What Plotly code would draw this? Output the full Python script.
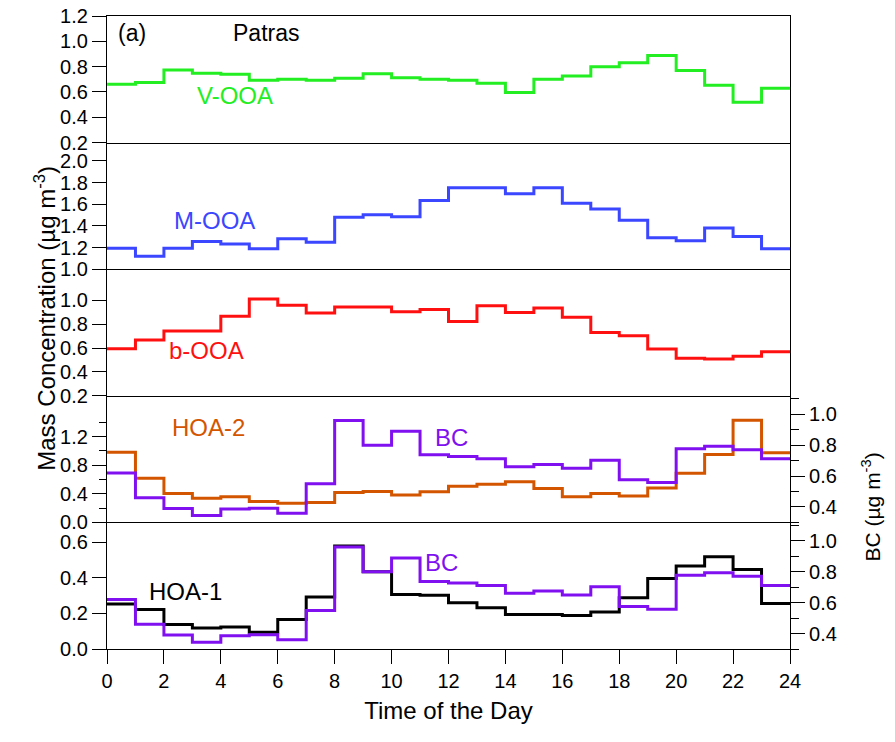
import plotly.graph_objects as go
from plotly.subplots import make_subplots

# ---------------- data ----------------
hour_edges = list(range(25))  # 0..24, hourly bins
v_ooa = [0.66, 0.674, 0.773, 0.747, 0.739, 0.692, 0.70, 0.692, 0.708, 0.744, 0.713, 0.70,
         0.692, 0.669, 0.596, 0.70, 0.726, 0.799, 0.83, 0.888, 0.77, 0.653, 0.518, 0.63]
m_ooa = [1.194, 1.119, 1.194, 1.256, 1.234, 1.188, 1.281, 1.25, 1.481, 1.503, 1.484, 1.634,
         1.753, 1.753, 1.697, 1.753, 1.609, 1.556, 1.453, 1.29, 1.263, 1.381, 1.303, 1.188]
b_ooa = [0.594, 0.667, 0.742, 0.742, 0.867, 1.011, 0.958, 0.894, 0.944, 0.944, 0.903, 0.922,
         0.822, 0.953, 0.897, 0.936, 0.858, 0.731, 0.703, 0.592, 0.514, 0.508, 0.531, 0.569]
hoa_2 = [0.982, 0.618, 0.405, 0.336, 0.359, 0.291, 0.268, 0.277, 0.418, 0.432, 0.382, 0.427,
         0.505, 0.532, 0.568, 0.473, 0.359, 0.405, 0.368, 0.482, 0.686, 0.95, 1.427, 0.973]
hoa_1 = [0.253, 0.221, 0.137, 0.118, 0.124, 0.094, 0.165, 0.291, 0.578, 0.433, 0.306, 0.302,
         0.259, 0.231, 0.193, 0.193, 0.188, 0.208, 0.287, 0.396, 0.465, 0.518, 0.446, 0.255]
bc = [0.62, 0.46, 0.39, 0.344, 0.386, 0.392, 0.36, 0.55, 0.96, 0.80, 0.89, 0.738,
      0.727, 0.712, 0.661, 0.675, 0.65, 0.703, 0.576, 0.558, 0.777, 0.794, 0.771, 0.712]

x_ticks = list(range(0, 25, 2))
p1_ticks = [0.2, 0.4, 0.6, 0.8, 1.0, 1.2]
p2_ticks = [1.0, 1.2, 1.4, 1.6, 1.8, 2.0]
p3_ticks = [0.2, 0.4, 0.6, 0.8, 1.0]
p4_ticks = [0.0, 0.4, 0.8, 1.2]
p4_minor = [0.2, 0.6, 1.0, 1.4]
p5_ticks = [0.0, 0.2, 0.4, 0.6]
bc_ticks = [0.4, 0.6, 0.8, 1.0]
bc_minor = [0.3, 0.5, 0.7, 0.9, 1.1]

# ---------------- style ----------------
FONT = "Liberation Sans, Arial, sans-serif"
C_GREEN = "#22EE22"
C_BLUE = "#3B46FF"
C_RED = "#FF1010"
C_ORANGE = "#D45500"
C_PURPLE = "#8010F0"
C_BLACK = "#000000"
LW = 3
TICKFS = 20
LABELFS = 24
AXLW = 1.2


def steps(vals):
    return vals + [vals[-1]]


fig = make_subplots(rows=5, cols=1, shared_xaxes=True, vertical_spacing=0,
                    specs=[[{}], [{}], [{}], [{"secondary_y": True}], [{"secondary_y": True}]])

fig.add_trace(go.Scatter(x=hour_edges, y=steps(v_ooa), mode="lines", line=dict(color=C_GREEN, width=LW, shape="hv")), row=1, col=1)
fig.add_trace(go.Scatter(x=hour_edges, y=steps(m_ooa), mode="lines", line=dict(color=C_BLUE, width=LW, shape="hv")), row=2, col=1)
fig.add_trace(go.Scatter(x=hour_edges, y=steps(b_ooa), mode="lines", line=dict(color=C_RED, width=LW, shape="hv")), row=3, col=1)
fig.add_trace(go.Scatter(x=hour_edges, y=steps(hoa_2), mode="lines", line=dict(color=C_ORANGE, width=LW, shape="hv")), row=4, col=1, secondary_y=False)
fig.add_trace(go.Scatter(x=hour_edges, y=steps(bc), mode="lines", line=dict(color=C_PURPLE, width=LW, shape="hv")), row=4, col=1, secondary_y=True)
fig.add_trace(go.Scatter(x=hour_edges, y=steps(hoa_1), mode="lines", line=dict(color=C_BLACK, width=LW, shape="hv")), row=5, col=1, secondary_y=False)
fig.add_trace(go.Scatter(x=hour_edges, y=steps(bc), mode="lines", line=dict(color=C_PURPLE, width=LW, shape="hv")), row=5, col=1, secondary_y=True)

axis_common = dict(showline=True, linecolor="black", linewidth=AXLW, showgrid=False, zeroline=False, automargin=False,
                   ticklabeloverflow="allow",
                   tickfont=dict(family=FONT, size=TICKFS, color="black"), tickcolor="black")

for r in range(1, 6):
    fig.update_xaxes(range=[0, 24], domain=[0, 1], mirror=(r == 1), row=r, col=1, **axis_common)
    if r < 5:
        fig.update_xaxes(ticks="", showticklabels=False, row=r, col=1)
fig.update_xaxes(ticks="outside", ticklen=14, tickwidth=AXLW, tickmode="array", tickvals=x_ticks,
                 showticklabels=True, title=dict(text="Time of the Day", font=dict(family=FONT, size=24, color="black"), standoff=11),
                 row=5, col=1)

ycommon = dict(ticks="outside", ticklen=14, tickwidth=AXLW, tickmode="array", tickformat=".1f", **axis_common)
doms = {1: [0.8, 1.0], 2: [0.6, 0.8], 3: [0.4, 0.6], 4: [0.2, 0.4], 5: [0.0, 0.2]}
fig.update_yaxes(range=[0.2, 1.2], tickvals=p1_ticks, mirror=True, domain=doms[1], row=1, col=1, **ycommon)
fig.update_yaxes(range=[1.0, 2.17], tickvals=p2_ticks, mirror=True, domain=doms[2], row=2, col=1, **ycommon)
fig.update_yaxes(range=[0.2, 1.26], tickvals=p3_ticks, mirror=True, domain=doms[3], row=3, col=1, **ycommon)
fig.update_yaxes(range=[0.0, 1.77], tickvals=p4_ticks, domain=doms[4], row=4, col=1, secondary_y=False,
                 minor=dict(tickmode="array", tickvals=p4_minor, ticks="outside", ticklen=7, tickwidth=AXLW, tickcolor="black"), **ycommon)
fig.update_yaxes(range=[0.0, 0.71], tickvals=p5_ticks, domain=doms[5], row=5, col=1, secondary_y=False, **ycommon)
for r in (4, 5):
    fig.update_yaxes(range=[0.3, 1.12], tickvals=bc_ticks, domain=doms[r], row=r, col=1, secondary_y=True,
                     minor=dict(tickmode="array", tickvals=bc_minor, ticks="outside", ticklen=8, tickwidth=AXLW, tickcolor="black"),
                     **ycommon)

# in-panel labels: (text, color, x hour, y value, row)
labels = [
    ("(a)", C_BLACK, 0.87, 1.065, 1),
    ("Patras", C_BLACK, 5.58, 1.065, 1),
    ("V-OOA", C_GREEN, 4.49, 0.57, 1),
    ("M-OOA", C_BLUE, 3.78, 1.453, 2),
    ("b-OOA", C_RED, 3.48, 0.58, 3),
    ("HOA-2", C_ORANGE, 3.56, 1.32, 4),
    ("BC", C_PURPLE, 12.09, 1.19, 4),
    ("HOA-1", C_BLACK, 2.76, 0.324, 5),
    ("BC", C_PURPLE, 11.77, 0.484, 5),
]
yref_map = {1: "y", 2: "y2", 3: "y3", 4: "y4", 5: "y6"}
for text, col, hx, vy, row in labels:
    size = 23 if text in ("(a)", "Patras") else LABELFS
    fig.add_annotation(x=hx, y=vy, xref="x" if row == 1 else f"x{row}", yref=yref_map[row], text=text,
                       xanchor="center", yanchor="middle",
                       showarrow=False, font=dict(family=FONT, size=size, color=col))

fig.add_annotation(x=-0.091, y=0.523, xref="paper", yref="paper", text="Mass Concentration (µg m<sup>-3</sup>)",
                   textangle=-90, xanchor="center", yanchor="middle", showarrow=False,
                   font=dict(family=FONT, size=24, color="black"))
fig.add_annotation(x=1.119, y=0.224, xref="paper", yref="paper", text="BC (µg m<sup>-3</sup>)",
                   textangle=-90, xanchor="center", yanchor="middle", showarrow=False,
                   font=dict(family=FONT, size=21, color="black"))

# the page body adds an 8px offset; figure size and margins compensate so the
# plot area lands at 107..790 (x) and 16..649 (y) in the browser window
fig.update_layout(width=879, height=726, margin=dict(l=99, r=97, t=8, b=85, autoexpand=False),
                  paper_bgcolor="white", plot_bgcolor="white", showlegend=False,
                  font=dict(family=FONT, color="black"))

fig.write_html("out.html")
